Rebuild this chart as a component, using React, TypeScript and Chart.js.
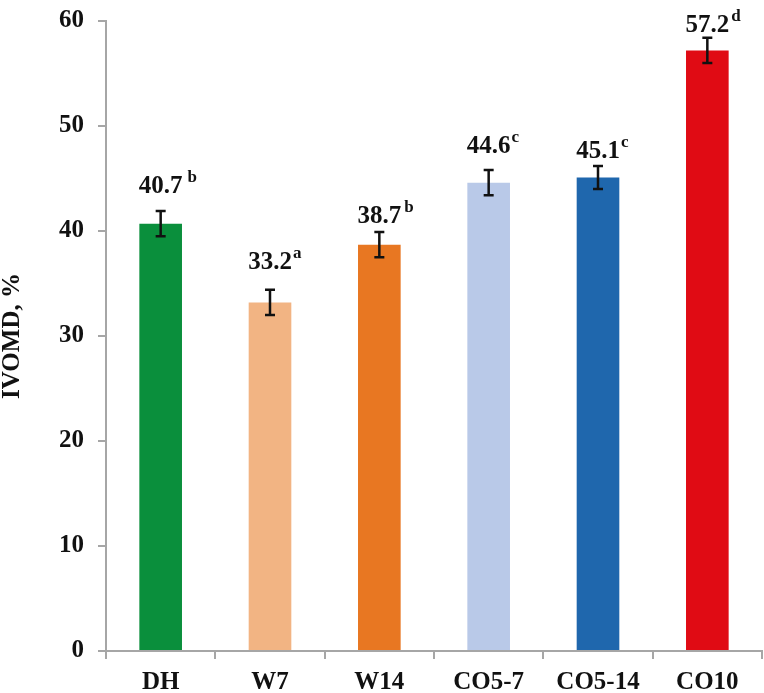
import { useEffect, useRef } from "react"
import { Chart, registerables } from "chart.js"

Chart.register(...registerables)

const categories = ["DH", "W7", "W14", "CO5-7", "CO5-14", "CO10"]
const values = [40.7, 33.2, 38.7, 44.6, 45.1, 57.2]
const errors = [1.2, 1.2, 1.2, 1.2, 1.1, 1.2]
const letters = ["b", "a", "b", "c", "c", "d"]
const letterGaps = [5, 1, 3, 1, 1, 2]
const labelLift = [18, 21, 9, 17, 8, 6]
const colors = ["#0a8f3c", "#f2b483", "#e87722", "#b9c9e8", "#1f67ad", "#e00b14"]
const yTicks = [0, 10, 20, 30, 40, 50, 60]

const SERIF = "'Liberation Serif', 'Times New Roman', serif"

// error bars + value labels with superscript letters
const barExtras = {
  id: "barExtras",
  afterDatasetsDraw(chart: Chart) {
    const ctx = chart.ctx
    const meta = chart.getDatasetMeta(0)
    const yScale = chart.scales.y
    ctx.save()
    meta.data.forEach((bar: any, i: number) => {
      const x = bar.x
      const hi = yScale.getPixelForValue(values[i] + errors[i])
      const lo = yScale.getPixelForValue(values[i] - errors[i])
      ctx.strokeStyle = "#111111"
      ctx.lineWidth = 2.5
      ctx.beginPath()
      ctx.moveTo(x, hi)
      ctx.lineTo(x, lo)
      ctx.moveTo(x - 5, hi)
      ctx.lineTo(x + 5, hi)
      ctx.moveTo(x - 5, lo)
      ctx.lineTo(x + 5, lo)
      ctx.stroke()

      const txt = values[i].toFixed(1)
      ctx.fillStyle = "#111111"
      ctx.textAlign = "left"
      ctx.textBaseline = "alphabetic"
      ctx.font = `bold 25px ${SERIF}`
      const w = ctx.measureText(txt).width
      const baseY = hi - labelLift[i]
      ctx.fillText(txt, x - w / 2, baseY)
      ctx.font = `bold 17px ${SERIF}`
      ctx.fillText(letters[i], x + w / 2 + letterGaps[i], baseY - 11)
    })
    ctx.restore()
  },
}

export default function App() {
  const chartRef = useRef<HTMLCanvasElement>(null)
  const chartInstance = useRef<Chart | null>(null)

  useEffect(() => {
    document.body.style.margin = "0"
    if (!chartRef.current) return
    if (chartInstance.current) chartInstance.current.destroy()
    const ctx = chartRef.current.getContext("2d")
    if (!ctx) return

    chartInstance.current = new Chart(ctx, {
      type: "bar",
      data: {
        labels: categories,
        datasets: [
          {
            data: values,
            backgroundColor: colors,
            borderWidth: 0,
            categoryPercentage: 1,
            barPercentage: 0.39,
          },
        ],
      },
      options: {
        responsive: true,
        maintainAspectRatio: false,
        animation: false,
        layout: { padding: { top: 0, right: 2, bottom: -14, left: 0 } },
        plugins: {
          legend: { display: false },
          tooltip: { enabled: false },
        },
        scales: {
          x: {
            grid: {
              display: true,
              drawOnChartArea: false,
              drawTicks: true,
              tickLength: 8,
              color: "#a6a6a6",
              lineWidth: 2,
            },
            border: { display: true, color: "#a6a6a6", width: 2 },
            ticks: {
              color: "#111111",
              padding: 19,
              font: { family: SERIF, size: 25, weight: "bold", lineHeight: 0.4 },
            },
          },
          y: {
            min: 0,
            max: 60,
            afterBuildTicks: (axis) => {
              axis.ticks = yTicks.map((v) => ({ value: v }))
            },
            grid: {
              display: true,
              drawOnChartArea: false,
              drawTicks: true,
              tickLength: 8,
              color: "#a6a6a6",
              lineWidth: 2,
            },
            border: { display: true, color: "#a6a6a6", width: 2 },
            ticks: {
              color: "#111111",
              padding: 14,
              font: { family: SERIF, size: 25, weight: "bold", lineHeight: 0.56 },
            },
            title: {
              display: true,
              text: "IVOMD, %",
              color: "#111111",
              padding: { top: 0, bottom: 20 },
              font: { family: SERIF, size: 25, weight: "bold", lineHeight: 1 },
            },
          },
        },
      },
      plugins: [barExtras],
    })

    return () => {
      if (chartInstance.current) {
        chartInstance.current.destroy()
        chartInstance.current = null
      }
    }
  }, [])

  return (
    <div style={{ width: 764, height: 693, position: "relative" }}>
      <canvas ref={chartRef} />
    </div>
  )
}
